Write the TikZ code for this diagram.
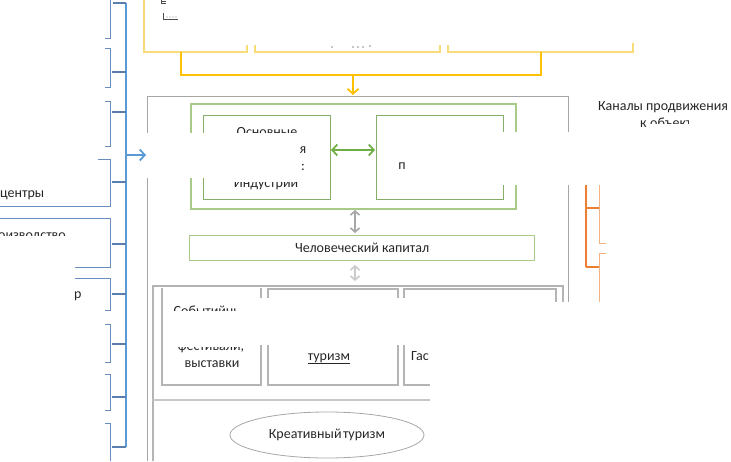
\documentclass[tikz,border=0pt]{standalone}
\usepackage{fontspec}
\setmainfont{Carlito}
\usetikzlibrary{arrows.meta,shapes.geometric}
\definecolor{ylwbox}{HTML}{F9DC78}
\definecolor{ylwline}{HTML}{FFC000}
\definecolor{bluspine}{HTML}{5B9BD5}
\definecolor{blutick}{HTML}{5A7FAF}
\definecolor{bluedge}{HTML}{6A8DBF}
\definecolor{grnout}{HTML}{A9CB8A}
\definecolor{grnin}{HTML}{86AE68}
\definecolor{grnarr}{HTML}{70AD47}
\definecolor{gryline}{HTML}{A6A6A6}
\definecolor{gryedge}{HTML}{B4B4B4}
\definecolor{orgspine}{HTML}{ED7D31}
\definecolor{orgedge}{HTML}{F4B183}
\tikzset{
  ybox/.style={draw=ylwbox, line width=1.3},
  yconn/.style={draw=ylwline, line width=2},
  gframe/.style={draw=gryline, line width=1},
  gbox/.style={draw=gryedge, line width=1.2},
  grout/.style={draw=grnout, line width=1.2},
  grin/.style={draw=grnin, line width=1},
  bspine/.style={draw=bluspine, line width=1.6},
  btick/.style={draw=blutick, line width=1.6},
  bedge/.style={draw=bluedge, line width=1},
  ospine/.style={draw=orgspine, line width=1.6},
  oedge/.style={draw=orgedge, line width=1},
  txt/.style={font=\fontsize{14}{17}\selectfont, inner sep=0pt, text=black!85},
  barb/.style={-{Straight Barb[length=5pt,width=11pt,line width=1.8pt]}},
  dbarb/.style={{Straight Barb[length=5pt,width=11pt,line width=1.8pt]}-{Straight Barb[length=5pt,width=11pt,line width=1.8pt]}},
  sbarb/.style={{Straight Barb[length=4pt,width=9pt,line width=1.6pt]}-{Straight Barb[length=4pt,width=9pt,line width=1.6pt]}}
}
\begin{document}
\begin{tikzpicture}[x=1pt,y=-1pt]
\useasboundingbox (0,0) rectangle (731,461);

% ---------- yellow (top) ----------
\draw[ybox] (144,0) -- (144,52) -- (247,52) -- (247,45);
\draw[ybox] (255,45) -- (255,52) -- (440,52) -- (440,45);
\draw[ybox] (448,45) -- (448,52) -- (633,52) -- (633,43);
\draw[black!70, line width=0.6] (161,1) -- (166,1) (161,3.5) -- (166,3.5) (161,0) -- (161,4);
\draw[black!70, line width=0.6] (163.5,13) -- (163.5,19.5) -- (178,19.5);
\fill[black!50] (167,17) circle (0.6) (170,17) circle (0.6) (173,17) circle (0.6) (176,17) circle (0.6);
\fill[black!45] (332,47) circle (0.8) (353,47) circle (0.8) (358,47) circle (0.8) (363,47) circle (0.8) (370,46) circle (0.9);
\coordinate (y1) at (181,52);
\coordinate (y3) at (541,52);
\coordinate (ymid) at (353,75);
\coordinate (frameTop) at (353,95);
\draw[yconn] (y1) -- (181,75) -- (541,75) -- (y3);
\draw[yconn, barb] (ymid) -- (frameTop);

% ---------- gray frame ----------
\draw[gframe] (147,133) -- (147,96) -- (568,96) -- (568,132);
\draw[gframe] (147,178) -- (147,461);
\draw[gframe] (568,185) -- (568,302);

% ---------- green block ----------
\draw[grout] (191,133) -- (191,104) -- (516,104) -- (516,132);
\draw[grout] (191,178) -- (191,209) -- (516,209) -- (516,185);
\draw[grin] (203,133) -- (203,115) -- (330,115) -- (330,199) -- (203,199) -- (203,178);
\draw[grin] (503,132) -- (503,115) -- (376,115) -- (376,199) -- (503,199) -- (503,185);
\coordinate (b1e) at (331,150);
\coordinate (b2w) at (375,150);
\draw[draw=grnarr, line width=1.8, dbarb] (b1e) -- (b2w);

\begin{scope}
  \clip (200,118) rectangle (335,132.5);
  \node[txt, anchor=base] (osn) at (267,136.5) {Основные};
\end{scope}
\node[txt, anchor=base east] (ya) at (306.5,153) {я};
\node[txt, anchor=base east] (colon) at (305,170) {:};
\begin{scope}
  \clip (200,182.5) rectangle (335,195);
  \node[txt, anchor=base] (ind) at (266,187.5) {Индустрии};
\end{scope}
\node[txt, anchor=base] (pp) at (402,169) {п};

% human capital
\coordinate (gA) at (355,210);
\coordinate (gB) at (355,233);
\draw[draw=gryline, line width=1.8, sbarb] (gA) -- (gB);
\node[txt, draw=grnout, line width=1.2, minimum width=345, minimum height=25, anchor=north west] (hc) at (189,235) {Человеческий капитал};
\coordinate (gC) at (355,265);
\coordinate (gD) at (355,281);
\draw[draw=gryedge!70, line width=1.8, sbarb] (gC) -- (gD);

% ---------- events block ----------
\draw[gbox] (563,302) -- (563,286) -- (153,286) -- (153,461);
\draw[gbox] (162,288) -- (162,385) -- (261,385) -- (261,345);
\draw[gbox] (261,288) -- (261,298);
\draw[gbox] (268,298) -- (268,289) -- (398,289) -- (398,298);
\draw[gbox] (268,345) -- (268,385) -- (398,385) -- (398,345);
\draw[gbox] (404,298) -- (404,289) -- (556,289) -- (556,302);
\draw[gbox] (404,345) -- (404,385) -- (430,385);
\draw[draw=black!22, line width=2.4] (153,400) -- (430,400);

\begin{scope}
  \clip (165,295) rectangle (238,310);
  \node[txt, anchor=base] (sob) at (212,315) {Событийный};
\end{scope}
\begin{scope}
  \clip (165,347.5) rectangle (258,356);
  \node[txt, anchor=base] (fest) at (211,350) {фестивали,};
\end{scope}
\node[txt, anchor=base] (vyst) at (212,367) {выставки};
\node[txt, anchor=base] (tur) at (329,360) {\underline{туризм}};
\begin{scope}
  \clip (400,340) rectangle (428,370);
  \node[txt, anchor=base west] (gas) at (411,360) {Гастро};
\end{scope}

\node[txt, ellipse, draw=gryline, line width=0.8, minimum width=194, minimum height=46] (kt) at (327,435) {Креативный\hspace{1.5pt}туризм};

% ---------- right: channels ----------
\node[txt, anchor=base] (kan) at (663,110) {Каналы продвижения};
\node[txt, anchor=base west] (kk) at (640,127) {к};
\begin{scope}
  \clip (648,110) rectangle (688,123);
  \node[txt, anchor=base west] (obj) at (650,127) {объект};
\end{scope}
\draw[ospine] (586,185) -- (586,267);
\draw[ospine] (586,208) -- (599,208);
\draw[ospine] (586,267) -- (599,267);
\draw[oedge] (599,185) -- (599,243) -- (606,243);
\draw[oedge] (606,253) -- (599,253) -- (599,302);

% ---------- left: blue ----------
\draw[bspine] (126,3) -- (126,447);
\foreach \ty in {72,112,182,244,294,344,397,447} {
  \draw[btick] (112,\ty) -- (126,\ty);
}
\draw[btick] (113,3) -- (126,3);
\draw[bedge] (110,0) -- (110,38) -- (105,38);
\draw[bedge] (105,48) -- (110,48) -- (110,87) -- (105,87);
\draw[bedge] (105,101) -- (110,101) -- (110,146) -- (105,146);
\draw[bedge] (98,159) -- (110,159) -- (110,206) -- (0,206);
\draw[bedge] (0,218) -- (110,218) -- (110,267) -- (75,267);
\draw[bedge] (75,278) -- (110,278) -- (110,310) -- (105,310);
\draw[bedge] (105,324) -- (110,324) -- (110,362) -- (105,362);
\draw[bedge] (105,374) -- (110,374) -- (110,410) -- (105,410);
\draw[bedge] (105,423) -- (110,423) -- (110,461);
\coordinate (sp) at (126,155);
\coordinate (fr) at (146,155);
\draw[draw=bluspine, line width=1.6, barb] (sp) -- (fr);

\node[txt, anchor=base west] (cen) at (0,197) {центры};
\begin{scope}
  \clip (0,220) rectangle (110,235);
  \node[txt, anchor=base east] (proiz) at (66,239) {производство};
\end{scope}
\node[txt, anchor=base west] (rr) at (74,298) {р};
\end{tikzpicture}
\end{document}
